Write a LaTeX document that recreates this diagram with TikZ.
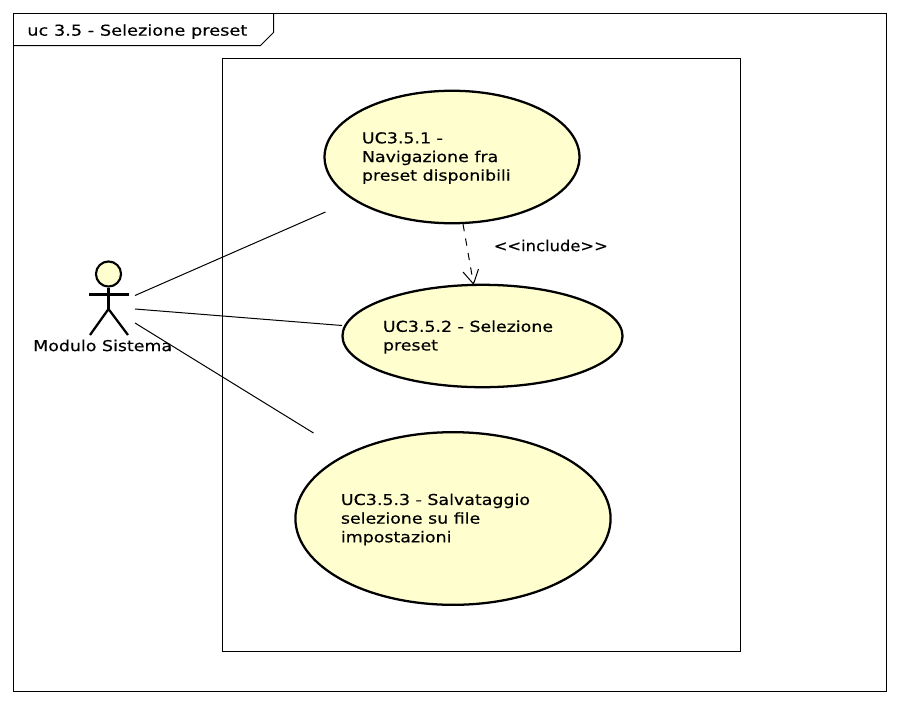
\documentclass[tikz,border=0pt]{standalone}
\usepackage{fontspec}
\setmainfont[FakeStretch=1.16,FakeBold=0.35]{DejaVu Sans}
\newfontfamily\titlefont[FakeStretch=1.185,FakeBold=0.35]{DejaVu Sans}
\newfontfamily\incfont[FakeStretch=1.09,FakeBold=0.35]{DejaVu Sans}
\usetikzlibrary{shapes.geometric}
\definecolor{ucfill}{HTML}{FEFECE}
\tikzset{
  x=0.75pt,y=-0.75pt,
  frameline/.style={draw=black,line width=0.75pt},
  usecase/.style={ellipse,draw=black,line width=1.7pt,fill=ucfill,inner sep=0pt,outer sep=0pt},
  uctext/.style={anchor=west,align=left,font=\fontsize{11.25pt}{14pt}\selectfont,inner sep=0pt},
  assoc/.style={draw=black,line width=0.75pt},
  stick/.style={draw=black,line width=1.7pt},
}
\begin{document}
\begin{tikzpicture}
\useasboundingbox (0,0) rectangle (900,704);
\fill[white] (0,0) rectangle (900,704);
\draw[frameline] (13.5,13.5) rectangle (886.5,691.5);
\draw[frameline] (13.5,45.5) -- (260.5,45.5) -- (273.5,32.5) -- (273.5,13.5);
\node[uctext] (title) at (27,31.5) {\titlefont uc 3.5 - Selezione preset};
\draw[frameline] (222.5,58.5) rectangle (740.5,651.5);
\node[usecase,minimum width=254bp*0.75,minimum height=132bp*0.75] (uca) at (452,157) {};
\node[usecase,minimum width=279bp*0.75,minimum height=102bp*0.75] (ucb) at (482.5,336) {};
\node[usecase,minimum width=314bp*0.75,minimum height=172bp*0.75] (ucc) at (453,518.5) {};
\node[uctext] (ta) at (361.7,158) {UC3.5.1 -\\Navigazione fra\\preset disponibili};
\node[uctext] (tb) at (382.7,337) {UC3.5.2 - Selezione\\preset};
\node[uctext] (tc) at (340.7,519.5) {UC3.5.3 - Salvataggio\\selezione su file\\impostazioni};
\node[uctext] (inc) at (493.5,245.5) {\incfont <{}<include>{}>};
\node[circle,draw=black,line width=1.6pt,fill=ucfill,minimum size=25bp*0.75,inner sep=0pt] (head) at (108.5,274) {};
\coordinate (hip) at (108.5,309);
\coordinate (armL) at (89,294.5);
\coordinate (armR) at (129,294.5);
\coordinate (legL) at (90,335);
\coordinate (legR) at (128,335);
\draw[stick] (head.south) -- (hip);
\draw[stick] (armL) -- (armR);
\draw[stick] (legL) -- (hip) -- (legR);
\node[uctext] (actor) at (33,345.5) {Modulo Sistema};
\coordinate (a1) at (135,295.5);
\coordinate (b1) at (325.5,212);
\coordinate (a2) at (135,309);
\coordinate (b2) at (342,325.5);
\coordinate (a3) at (135,323);
\coordinate (b3) at (313.5,433);
\draw[assoc] (a1) -- (b1);
\draw[assoc] (a2) -- (b2);
\draw[assoc] (a3) -- (b3);
\coordinate (d1) at (463,224);
\coordinate (d2) at (473.5,284);
\coordinate (h1) at (463,272);
\coordinate (h2) at (478.5,269);
\draw[assoc,dash pattern=on 5.5pt off 5.5pt] (d1) -- (d2);
\draw[assoc] (h1) -- (d2) -- (h2);
\end{tikzpicture}
\end{document}
